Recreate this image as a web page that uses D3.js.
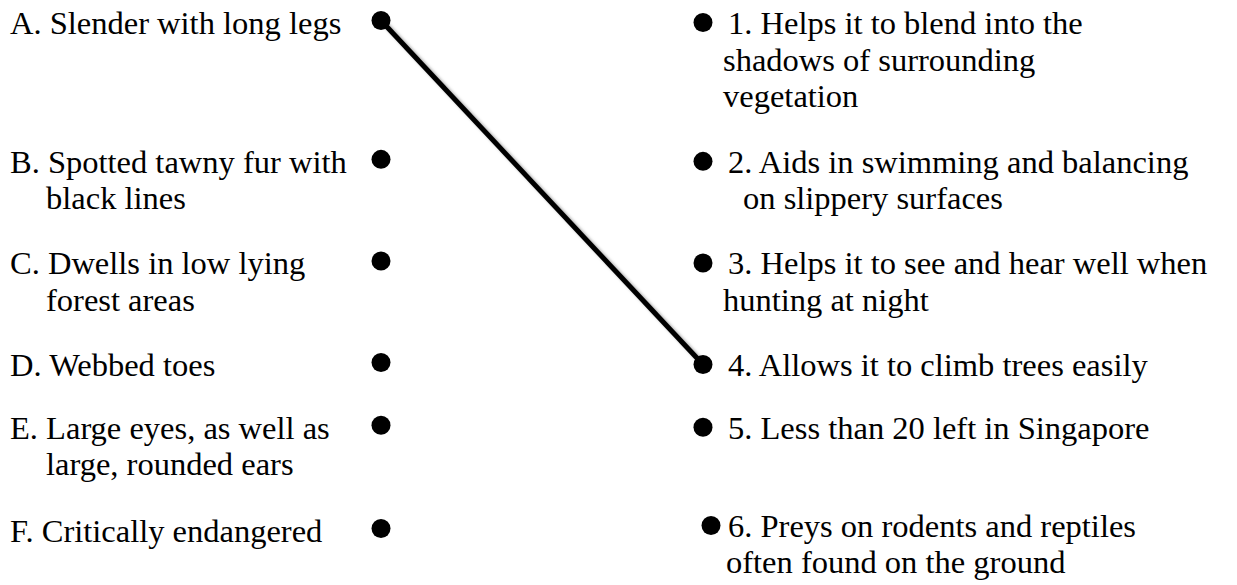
<!DOCTYPE html>
<html>
<head>
<meta charset="utf-8">
<script src="https://cdn.jsdelivr.net/npm/d3@7"></script>
<style>
  body { margin: 0; background: #fff; }
  svg { display: block; }
</style>
</head>
<body>
<div id="chart"></div>
<script>
// items on the left, wrapped the way the sheet wraps them
var leftLabels = [
  ["A. Slender with long legs"],
  ["B. Spotted tawny fur with", "black lines"],
  ["C. Dwells in low lying", "forest areas"],
  ["D. Webbed toes"],
  ["E. Large eyes, as well as", "large, rounded ears"],
  ["F. Critically endangered"]
];
var rightLabels = [
  ["1. Helps it to blend into the", "shadows of surrounding", "vegetation"],
  ["2. Aids in swimming and balancing", "on slippery surfaces"],
  ["3. Helps it to see and hear well when", "hunting at night"],
  ["4. Allows it to climb trees easily"],
  ["5. Less than 20 left in Singapore"],
  ["6. Preys on rodents and reptiles", "often found on the ground"]
];
// vertical slot of each item, in lines of text
var leftSlots = [0, 4.1, 7.1, 10.1, 11.95, 15];
var rightSlots = [0, 4.1, 7.1, 10.1, 11.95, 14.85];
// answers drawn so far: [left index, right index]
var matches = [[0, 3]];

var w = 1237;
var h = 585;

var svg = d3.select("#chart")
  .append("svg")
  .attr("width", w)
  .attr("height", h);

var y = d3.scaleLinear().domain([0, 15]).range([34, 542]);
var lineGap = 36.5;

// small layout tweaks per row (indent of wrapped lines, dot offset)
var leftIndent = [36, 36, 36, 36, 36, 36];
var rightIndent = [-5, 15, -5, 0, 0, -2];
var rightDotShift = [0, 0, 0, 0, 0, 8];

var leftX = 10, leftDotX = 381;
var rightX = 728, rightDotX = 703;

var defs = svg.append("defs");
var f = defs.append("filter").attr("id", "shadow")
  .attr("x", "-20%").attr("y", "-20%").attr("width", "140%").attr("height", "140%");
f.append("feDropShadow")
  .attr("dx", 2.5).attr("dy", 1.5)
  .attr("stdDeviation", 1.6)
  .attr("flood-color", "#000")
  .attr("flood-opacity", 0.35);

function drawColumn(labels, slots, x0, indent) {
  var g = svg.append("g");
  labels.forEach(function(lines, i) {
    var t = g.append("text")
      .attr("font-family", "'Liberation Serif', 'Times New Roman', serif")
      .attr("font-size", "32.5px")
      .attr("fill", "#000");
    lines.forEach(function(s, j) {
      t.append("tspan")
        .attr("x", j === 0 ? x0 : x0 + indent[i])
        .attr("y", y(slots[i]) + j * lineGap)
        .text(s);
    });
  });
}

drawColumn(leftLabels, leftSlots, leftX, leftIndent);
drawColumn(rightLabels, rightSlots, rightX, rightIndent);

// connecting lines
svg.selectAll("line.match")
  .data(matches)
  .enter()
  .append("line")
  .attr("class", "match")
  .attr("x1", leftDotX)
  .attr("y1", function(d) { return y(leftSlots[d[0]]) - 13.5; })
  .attr("x2", function(d) { return rightDotX + rightDotShift[d[1]]; })
  .attr("y2", function(d) { return y(rightSlots[d[1]]) - 11.5; })
  .attr("stroke", "#000")
  .attr("stroke-width", 5)
  .attr("filter", "url(#shadow)");

svg.selectAll("circle.left")
  .data(leftSlots)
  .enter()
  .append("circle")
  .attr("class", "left")
  .attr("cx", leftDotX)
  .attr("cy", function(d) { return y(d) - 13.5; })
  .attr("r", 9.5)
  .attr("fill", "#000");

svg.selectAll("circle.right")
  .data(rightSlots)
  .enter()
  .append("circle")
  .attr("class", "right")
  .attr("cx", function(d, i) { return rightDotX + rightDotShift[i]; })
  .attr("cy", function(d) { return y(d) - 11.5; })
  .attr("r", 9.5)
  .attr("fill", "#000");
</script>
</body>
</html>
